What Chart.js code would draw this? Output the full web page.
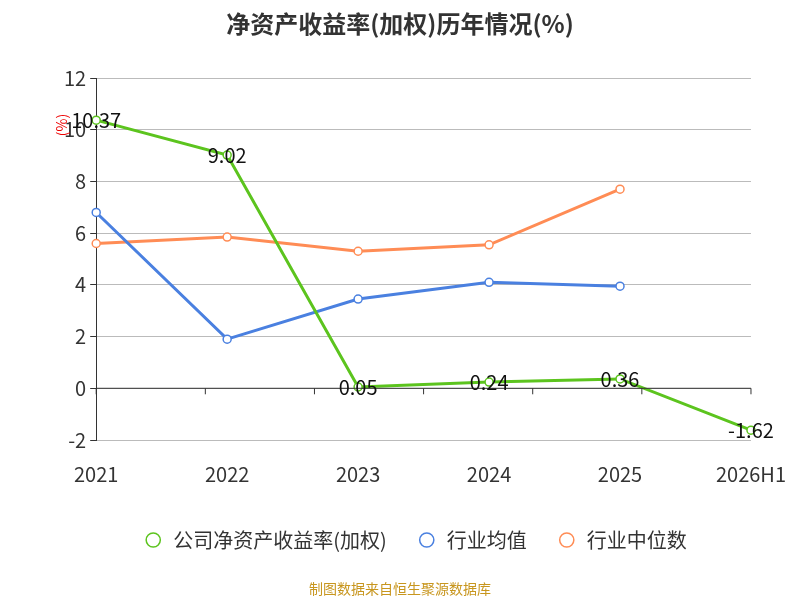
<!DOCTYPE html>
<html><head><meta charset="utf-8">
<script src="https://cdn.jsdelivr.net/npm/chart.js@4"></script>
<style>body{margin:0;background:#fff}</style>
</head><body><canvas id="c" width="800" height="600"></canvas>
<script>
const categories=['2021','2022','2023','2024','2025','2026H1'];
const company=[10.37,9.02,0.05,0.24,0.36,-1.62];
const industryAvg=[6.8,1.9,3.45,4.1,3.95,null];
const industryMedian=[5.6,5.85,5.3,5.55,7.7,null];
const yTicks=[-2,0,2,4,6,8,10,12];
const F='"Noto Sans CJK SC","Noto Sans",sans-serif';
const extra={id:'extra',afterDraw(ch){
 const c=ch.ctx,ca=ch.chartArea;c.save();
 c.font='bold 24px '+F;c.fillStyle='#333';c.textAlign='center';c.textBaseline='middle';
 c.fillText('净资产收益率(加权)历年情况(%)',400,24);
 c.font='14px '+F;c.fillStyle='#c8961e';c.fillText('制图数据来自恒生聚源数据库',400,589);
 c.save();c.translate(62,125);c.rotate(-Math.PI/2);c.fillStyle='#e00';c.font='14px '+F;c.fillText('(%)',0,0);c.restore();
 const y=ch.scales.y,y0=y.getPixelForValue(0);
 c.strokeStyle='#333';c.lineWidth=1;c.beginPath();c.moveTo(ca.left,y0);c.lineTo(ca.right,y0);
 const step=(ca.right-ca.left)/categories.length;
 for(let i=0;i<=categories.length;i++){const px=ca.left+i*step;c.moveTo(px,y0);c.lineTo(px,y0+6);}
 c.stroke();
 const m=ch.getDatasetMeta(0);c.font='20px '+F;c.fillStyle='#111';
 m.data.forEach((p,i)=>{c.fillText(company[i].toFixed(2),p.x,p.y);});
 c.restore();}};
new Chart(document.getElementById('c'),{type:'line',
 data:{labels:categories,datasets:[
  {label:'公司净资产收益率(加权)',data:company,borderColor:'#5cc41e',backgroundColor:'#fff',borderWidth:3,pointRadius:4,pointBorderWidth:1.5},
  {label:'行业均值',data:industryAvg,borderColor:'#4a80e0',backgroundColor:'#fff',borderWidth:3,pointRadius:4,pointBorderWidth:1.5},
  {label:'行业中位数',data:industryMedian,borderColor:'#ff8c55',backgroundColor:'#fff',borderWidth:3,pointRadius:4,pointBorderWidth:1.5}]},
 options:{responsive:false,animation:false,devicePixelRatio:1,
  layout:{padding:{top:78,left:60,right:30,bottom:40}},
  plugins:{title:{display:false},tooltip:{enabled:false},
   legend:{position:'bottom',labels:{usePointStyle:true,pointStyle:'circle',boxWidth:40,boxHeight:10,padding:30,font:{size:20,family:F},color:'#333'}}},
  scales:{x:{grid:{display:false},border:{display:false},ticks:{font:{size:20,family:F},color:'#333',padding:14}},
   y:{min:-2,max:12,afterBuildTicks:a=>{a.ticks=yTicks.map(v=>({value:v}));},
    border:{display:true,color:'#333'},grid:{color:'#bbb',drawTicks:true,tickLength:6,tickColor:'#333'},
    ticks:{font:{size:20,family:F},color:'#333',padding:4}}}},
 plugins:[extra]});
</script></body></html>
